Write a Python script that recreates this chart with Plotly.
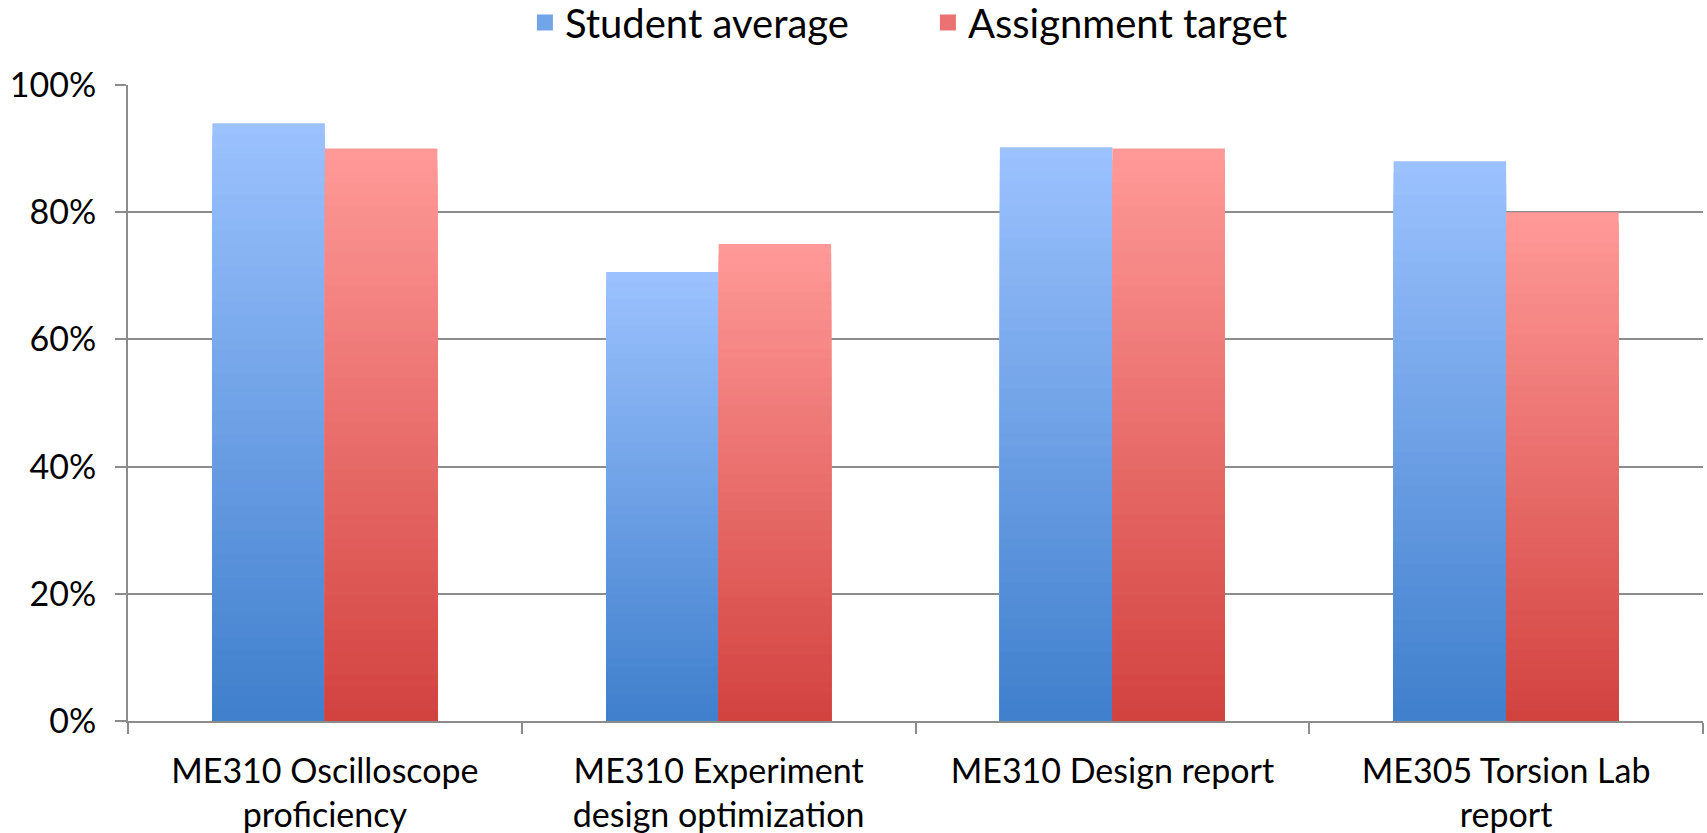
import plotly.graph_objects as go

categories = ["ME310 Oscilloscope<br>proficiency",
              "ME310 Experiment<br>design optimization",
              "ME310 Design report",
              "ME305 Torsion Lab<br>report"]
student_avg = [0.940, 0.706, 0.902, 0.880]
assignment_target = [0.90, 0.75, 0.90, 0.80]
series_names = ["Student average", "Assignment target"]
y_ticks = [0, 0.2, 0.4, 0.6, 0.8, 1.0]

FONT = "Lato"
GRID = "#8c8c8c"
N = 50
BW = 1 / 3.5

blue_top, blue_bot = (156, 194, 254), (63, 127, 205)
red_top, red_bot = (255, 154, 152), (210, 66, 63)


def mix(c0, c1, t):
    return "rgb(%d,%d,%d)" % tuple(round(a + (b - a) * t) for a, b in zip(c0, c1))


fig = go.Figure()
# gradient fill: overlapping bars from full height (lightest) down to the shortest (darkest)
for vals, top, bot, off in [(student_avg, blue_top, blue_bot, -BW),
                            (assignment_target, red_top, red_bot, 0.0)]:
    for i in range(N - 1, -1, -1):
        t = (i + 0.5) / N
        fig.add_trace(go.Bar(
            x=categories,
            y=[v * (i + 1) / N for v in vals],
            width=BW, offset=off,
            marker=dict(color=mix(bot, top, t), line=dict(width=0)),
            showlegend=False, hoverinfo="skip",
        ))

for name, top, bot in [(series_names[0], blue_top, blue_bot),
                       (series_names[1], red_top, red_bot)]:
    c = mix(bot, top, 0.55)
    fig.add_trace(go.Scatter(x=[categories[0]], y=[None], name=name, mode="markers",
                             marker=dict(symbol="square", size=24, color=c,
                                         line=dict(width=0))))

fig.update_layout(
    width=1707, height=833,
    margin=dict(l=128, r=4, t=85, b=112, autoexpand=False),
    paper_bgcolor="white", plot_bgcolor="white",
    barmode="overlay",
    font=dict(family=FONT, color="black"),
    legend=dict(orientation="h", x=0.252, xanchor="left",
                yref="container", y=0.973, yanchor="middle",
                font=dict(size=40, family=FONT), itemwidth=30,
                itemsizing="trace",
                entrywidth=358, entrywidthmode="pixels"),
    xaxis=dict(type="category", tickson="boundaries", ticks="outside",
               ticklen=11, tickwidth=2, tickcolor=GRID,
               showline=True, linecolor=GRID, linewidth=2, automargin=False,
               showgrid=False, tickfont=dict(size=34, family=FONT),
               ticklabelstandoff=19, range=[-0.5, 3.5]),
    yaxis=dict(range=[0, 1], tickvals=y_ticks, tickformat=".0%",
               ticks="outside", ticklen=11, tickwidth=2, tickcolor=GRID,
               showline=True, linecolor=GRID, linewidth=2, automargin=False,
               showgrid=True, gridcolor=GRID, gridwidth=2, zeroline=False,
               tickfont=dict(size=34, family=FONT), ticklabelstandoff=12),
)

fig.write_html("out.html")
